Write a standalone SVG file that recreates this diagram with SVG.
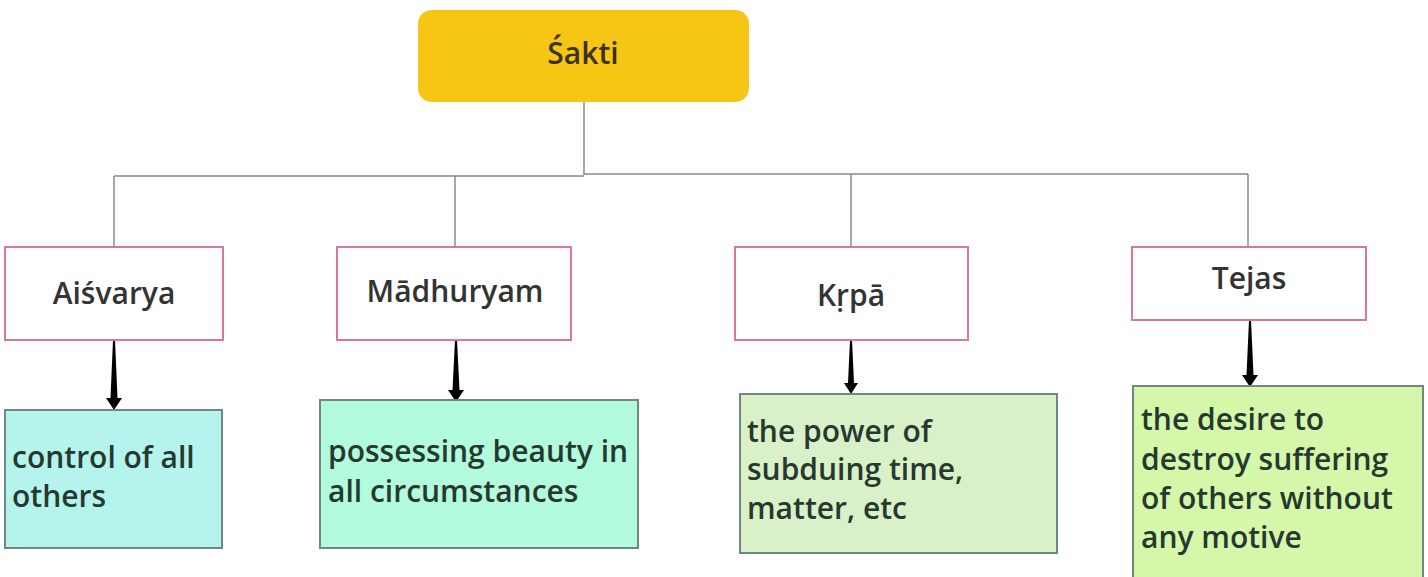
<svg xmlns="http://www.w3.org/2000/svg" width="1428" height="577" viewBox="0 0 1428 577">
<style>
.lbl{font-family:"Open Sans","Noto Sans",sans-serif;font-weight:600;font-size:30px;fill:#333333;text-anchor:middle}
.desc{font-family:"Open Sans","Noto Sans",sans-serif;font-weight:600;font-size:30px;fill:#26392f}
.pink{fill:#ffffff;stroke:#d9779f;stroke-width:2}
.dbox{stroke:#6e8a80;stroke-width:2}
.conn{fill:none;stroke:#8a8a8a;stroke-width:1.5}
.arr{fill:#000;stroke:none}
</style>
<rect width="1428" height="577" fill="#ffffff"/>
<g id="connectors">
<path class="conn" d="M584,102 V175 M114,176 H584 M584,174 H1248 M114,176 V247 M455,176 V247 M851,174 V247 M1248,174 V247"/>
<path class="arr" d="M113,340 L115,340 L117.5,398 L122,398 L114,410 L106,398 L110.5,398 z"/>
<path class="arr" d="M455,340 L457,340 L459.5,390 L464,390 L456,402 L448,390 L452.5,390 z"/>
<path class="arr" d="M850,340 L852,340 L854,383 L858,383 L851,394 L844,383 L848,383 z"/>
<path class="arr" d="M1249,320 L1251,320 L1253.5,375 L1258,375 L1250,387 L1242,375 L1246.5,375 z"/>
</g>
<g id="sakti">
<rect x="418" y="10" width="331" height="92" rx="14" fill="#f7c614"/>
<text class="lbl" x="583" y="64" style="fill:#3a321c">Śakti</text>
</g>
<g id="aisvarya">
<rect class="pink" x="5" y="247" width="218" height="93"/>
<text class="lbl" x="114" y="304">Aiśvarya</text>
</g>
<g id="madhuryam">
<rect class="pink" x="337" y="247" width="234" height="93"/>
<text class="lbl" x="455" y="302">Mādhuryam</text>
</g>
<g id="krpa">
<rect class="pink" x="735" y="247" width="233" height="93"/>
<text class="lbl" x="851" y="306">Kṛpā</text>
</g>
<g id="tejas">
<rect class="pink" x="1132" y="247" width="234" height="73"/>
<text class="lbl" x="1249" y="289">Tejas</text>
</g>
<g id="aisvarya-desc">
<rect class="dbox" x="5" y="410" width="217" height="138" fill="#b4f4ec"/>
<text class="desc" x="12" y="468">control of all</text>
<text class="desc" x="12" y="507">others</text>
</g>
<g id="madhuryam-desc">
<rect class="dbox" x="320" y="400" width="318" height="148" fill="#b2fbdc"/>
<text class="desc" x="328" y="462">possessing beauty in</text>
<text class="desc" x="328" y="502">all circumstances</text>
</g>
<g id="krpa-desc">
<rect class="dbox" x="740" y="394" width="317" height="159" fill="#d9f0c9"/>
<text class="desc" x="747" y="442">the power of</text>
<text class="desc" x="747" y="480">subduing time,</text>
<text class="desc" x="747" y="519">matter, etc</text>
</g>
<g id="tejas-desc">
<rect class="dbox" x="1133" y="386" width="290" height="200" fill="#d5f7aa"/>
<text class="desc" x="1141" y="430">the desire to</text>
<text class="desc" x="1141" y="470">destroy suffering</text>
<text class="desc" x="1141" y="509">of others without</text>
<text class="desc" x="1141" y="548">any motive</text>
</g>
</svg>
